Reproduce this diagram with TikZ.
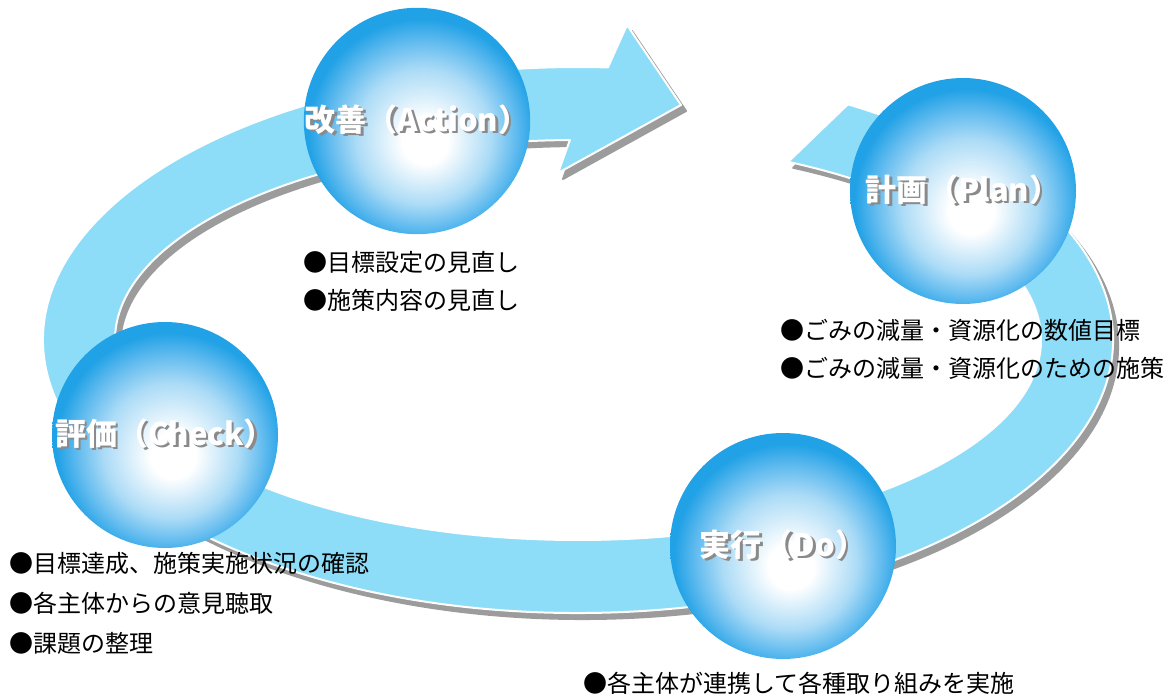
\documentclass[tikz,border=0pt]{standalone}
\usepackage{fontspec}
\setmainfont{Noto Sans CJK JP}
\usetikzlibrary{calc}
\definecolor{pdcaband}{HTML}{8EDDF8}
\definecolor{pdcashadow}{HTML}{9C9C9C}
\definecolor{sphmid}{HTML}{ABDBF6}
\definecolor{sphrim}{HTML}{5CB9EE}
\definecolor{sphedge}{HTML}{22A2E6}
\definecolor{lblshadow}{HTML}{8A8A8A}
\pgfdeclareradialshading{spherefill}{\pgfpoint{2bp}{-5bp}}{color(0bp)=(white); color(5bp)=(white); color(15bp)=(sphmid); color(21bp)=(sphrim); color(25bp)=(sphedge); color(50bp)=(sphedge)}
\newcommand{\embossed}[1]{\rlap{\kern1.2pt\raisebox{-1.2pt}{\color{lblshadow}#1}}{\color{white}#1}}
\tikzset{
  sphere/.style={circle,inner sep=0pt,minimum size=113pt,shading=spherefill,
                 font=\fontsize{15.5pt}{17pt}\selectfont\bfseries},
  bullets/.style={anchor=west,inner sep=0pt,align=left,
                  font=\fontsize{12pt}{19pt}\selectfont,text=black},
}

\begin{document}
\begin{tikzpicture}[x=0.5pt,y=-0.5pt]
\useasboundingbox (0,0) rectangle (1167,694);
\foreach \dx/\dy/\fc/\dc in {5/6/pdcashadow/pdcashadow,0/0/pdcaband/white}{
  \path[fill=\fc,draw=\dc,line width=1pt,line join=round,shift={(\dx,\dy)}]
    ([shift={(578,340)}]-59.7:535 and 273)
    arc[start angle=-59.7,end angle=273.2,x radius=535,y radius=273]
    -- (627,25) -- (681,105) -- (558,173)
    -- ([shift={(578,340)}]269:463 and 200)
    arc[start angle=269,end angle=-63,x radius=463,y radius=200] -- cycle;
}
\node[sphere] (act)  at (417,121) {\embossed{改善（Action）}};
\node[sphere] (plan) at (963,191) {\embossed{計画（Plan）}};
\node[sphere] (chk)  at (165,435) {\embossed{評価（Check）}};
\node[sphere] (do)   at (783,546) {\raisebox{-4pt}{\embossed{実行（Do）}}};
\node[bullets] (actnotes)  at (303,281) {●目標設定の見直し\\●施策内容の見直し};
\node[bullets] (plannotes) at (780,349) {●ごみの減量・資源化の数値目標\\●ごみの減量・資源化のための施策};
\node[bullets,font=\fontsize{12pt}{20pt}\selectfont] (chknotes) at (9,603)
  {●目標達成、施策実施状況の確認\\●各主体からの意見聴取\\●課題の整理};
\node[bullets] (donotes) at (583,683) {●各主体が連携して各種取り組みを実施};
\end{tikzpicture}
\end{document}
